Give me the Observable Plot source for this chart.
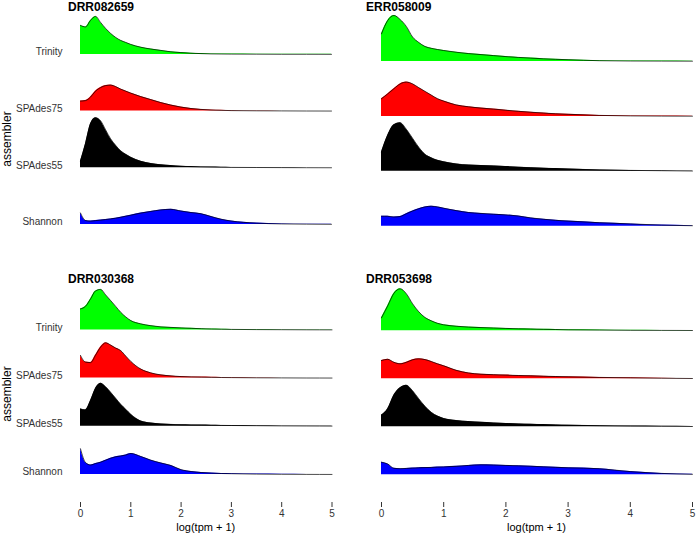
<!DOCTYPE html>
<html><head><meta charset="utf-8">
<script src="https://cdn.jsdelivr.net/npm/d3@7"></script>
<script src="https://cdn.jsdelivr.net/npm/@observablehq/plot@0.6"></script>
<style>
body{margin:0;background:#fff;font-family:"Liberation Sans",Arial,sans-serif;}
#root{position:relative;width:696px;height:535px;overflow:hidden;background:#fff;}
.panel{position:absolute;}
.title{position:absolute;font-weight:bold;font-size:12px;line-height:12px;color:#000;white-space:nowrap;}
.ylab{position:absolute;font-size:12px;line-height:12px;color:#000;transform:translate(-50%,-50%) rotate(-90deg);white-space:nowrap;}
.xlab{position:absolute;font-size:11px;line-height:11px;color:#000;transform:translate(-50%,-50%);white-space:nowrap;}
</style></head><body><div id="root"></div>
<script>
// ---------- data (relative density heights) ----------
const assemblers = ["Trinity", "SPAdes75", "SPAdes55", "Shannon"];
const colors = ["#00FF00", "#FF0000", "#000000", "#0000FF"];
const samples = ["DRR082659", "ERR058009", "DRR030368", "DRR053698"];
const xTicks = [0, 1, 2, 3, 4, 5];
const xTitle = "log(tpm + 1)";
const yTitle = "assembler";
const xGrid = [0,0.1,0.2,0.3,0.4,0.5,0.6,0.7,0.8,0.9,1.0,1.2,1.4,1.6,1.8,2.0,2.2,2.4,2.6,2.8,3.0,3.5,4.0,4.5,5.0];

const DRR082659_Trinity  = [29,27.5,34,38,32,26,21,17,14,12,10,7.2,5.4,4,2.6,1.8,1.2,0.8,0.5,0.4,0.3,0.2,0.1,0.1,0.05];
const DRR082659_SPAdes75 = [10,10.5,14,20,23.5,25.5,26,24.5,22,20,18,14.5,11.5,8.5,6,4,2.6,1.7,1.1,0.8,0.5,0.3,0.2,0.1,0.05];
const DRR082659_SPAdes55 = [6.7,24,44,50,47,38,29,22.5,17,13.5,10.6,6.5,4.3,3,2.2,1.5,1.2,0.9,0.7,0.5,0.4,0.3,0.2,0.1,0.05];
const DRR082659_Shannon  = [11.5,4,3.4,3.9,4.4,5,5.6,6.3,7.2,8.3,9.3,11.4,13.1,14.6,15.2,13.5,12,10.8,8,5.3,3.5,1.4,0.6,0.35,0.2];

const ERR058009_Trinity  = [27.7,41,46,42,35,24.5,19,15,13.2,12,11,9.3,7.9,6.9,5.9,4.9,4.1,3.4,2.7,2.2,1.8,0.8,0.5,0.4,0.3];
const ERR058009_SPAdes75 = [17.7,22.5,27.7,32.5,34.3,32.5,28.7,25,21.3,17.7,15.3,11.5,9.6,8.3,7.3,6.2,5.1,4.2,3.4,2.6,2.1,1.0,0.5,0.3,0.2];
const ERR058009_SPAdes55 = [19.3,36,46.5,48.5,42,33,24,17,13.5,11,9.5,7.4,6.2,5.8,5.4,4.7,4.1,3.6,3.1,2.7,2.3,1.4,0.9,0.6,0.3];
const ERR058009_Shannon  = [10,10,9.2,9.7,12.5,15.2,17.5,19.3,20,19.3,18,15.6,13.7,12.8,12,11.3,10.2,8.3,7,5.9,5.1,3.5,2.3,1.1,0.5];

const DRR030368_Trinity  = [21,23.6,31,39,40.5,35,29.3,23.5,17.6,13,9.3,6,4.2,3,2.5,2,1.6,1.2,0.9,0.7,0.5,0.3,0.2,0.1,0.05];
const DRR030368_SPAdes75 = [22.7,16,15.5,23,31,35.3,33,30,27.5,22,16.7,9,5.2,3.2,2.2,1.5,1.2,1,0.8,0.6,0.5,0.3,0.2,0.1,0.05];
const DRR030368_SPAdes55 = [17.4,16.4,25.7,38,43,39.5,34,28,22,17,12,5.2,3.2,2.3,1.9,1.5,1.3,1.2,1.0,0.9,0.8,0.6,0.4,0.3,0.2];
const DRR030368_Shannon  = [25.7,12,9.5,11,12.3,14.3,16.3,17.7,18.5,19.5,21,18,14.3,11.5,9,4.8,3,2,1.4,1,0.8,0.4,0.2,0.1,0.05];

const DRR053698_Trinity  = [13,25,37.5,42,37,27,19,13.3,10,7.5,6,4.6,3.7,3.2,2.8,2.4,2.0,1.8,1.5,1.3,1.0,0.8,0.5,0.4,0.3];
const DRR053698_SPAdes75 = [18.3,19.5,16.5,15,16.5,19,20,19.2,17.3,15,13,8.5,5.8,4.6,4.1,3.7,3.3,3,2.6,2.3,2.0,1.4,1.0,0.6,0.3];
const DRR053698_SPAdes55 = [11.7,18,31.7,39,41.5,36,28,20.5,14.5,10.7,8.3,6.3,5.2,4.5,3.8,3.3,2.9,2.5,2.2,1.9,1.6,1.1,0.7,0.5,0.3];
const DRR053698_Shannon  = [12.6,10.8,6.5,6.1,6.4,6.7,7,7.2,7.4,7.7,7.9,8.5,9.4,10,9.8,9.4,9,8.6,8,7.5,7,6.1,3.2,1.4,0.5];

const seriesBySample = [
  [DRR082659_Trinity, DRR082659_SPAdes75, DRR082659_SPAdes55, DRR082659_Shannon],
  [ERR058009_Trinity, ERR058009_SPAdes75, ERR058009_SPAdes55, ERR058009_Shannon],
  [DRR030368_Trinity, DRR030368_SPAdes75, DRR030368_SPAdes55, DRR030368_Shannon],
  [DRR053698_Trinity, DRR053698_SPAdes75, DRR053698_SPAdes55, DRR053698_Shannon]
];

// ---------- layout ----------
const layout = [
  {left:0,   top:0,   width:348, height:232, x0:80, x5:331, base:224,   frameBottom:224,   spacing:56.7, axis:false, labels:true,  titleX:68,  titleY:0.5, ylabY:139},
  {left:348, top:0,   width:348, height:232, x0:33, x5:344, base:225.7, frameBottom:225.7, spacing:54.9, axis:false, labels:false, titleX:366, titleY:0.5},
  {left:0,   top:250, width:348, height:285, x0:80, x5:331.5, base:224, frameBottom:252,   spacing:48.2, axis:true,  labels:true,  titleX:68,  titleY:272.5, ylabY:394},
  {left:348, top:250, width:348, height:285, x0:33, x5:344, base:224.3, frameBottom:252,   spacing:48,   axis:true,  labels:false, titleX:366, titleY:272.5}
];

const root = document.getElementById("root");
const curve = "monotone-x";

layout.forEach((p, si) => {
  const marks = [];
  seriesBySample[si].forEach((vals, k) => {
    const off = (3 - k) * p.spacing;
    const rows = xGrid.map((x, j) => ({x, lo: off, hi: off + vals[j]}));
    marks.push(Plot.areaY(rows, {x: "x", y1: "lo", y2: "hi", fill: colors[k], curve}));
    marks.push(Plot.lineY(rows, {x: "x", y: "hi", stroke: "#000", strokeWidth: 0.7, curve}));
  });
  if (p.labels) {
    marks.push(Plot.text(assemblers, {
      x: () => 0, y: (d, i) => (3 - i) * p.spacing, text: d => d,
      textAnchor: "end", dx: -18, dy: -2.5, fontSize: 10, fill: "#333"
    }));
  }
  if (p.axis) {
    marks.push(Plot.axisX({ticks: xTicks, tickSize: 5, tickPadding: 2, tickFormat: d => String(d),
      label: null, fontSize: 10, color: "#333"}));
  }
  const chart = Plot.plot({
    width: p.width, height: p.height,
    marginLeft: p.x0, marginRight: p.width - p.x5,
    marginTop: 0, marginBottom: p.height - p.frameBottom,
    x: {domain: [0, 5], axis: null},
    y: {domain: [p.base - p.frameBottom, p.base], axis: null},
    style: {fontFamily: '"Liberation Sans", Arial, sans-serif', fontSize: "10px", color: "#333", background: "transparent", overflow: "visible"},
    marks
  });
  const div = document.createElement("div");
  div.className = "panel";
  div.style.left = p.left + "px"; div.style.top = p.top + "px";
  div.appendChild(chart);
  root.appendChild(div);

  const t = document.createElement("div");
  t.className = "title"; t.textContent = samples[si];
  t.style.left = p.titleX + "px"; t.style.top = p.titleY + "px";
  root.appendChild(t);

  if (p.labels) {
    const yl = document.createElement("div");
    yl.className = "ylab"; yl.textContent = yTitle;
    yl.style.left = "7px"; yl.style.top = p.ylabY + "px";
    root.appendChild(yl);
  }
  if (p.axis) {
    const xl = document.createElement("div");
    xl.className = "xlab"; xl.textContent = xTitle;
    xl.style.left = (p.left + (p.x0 + p.x5) / 2) + "px";
    xl.style.top = "527px";
    root.appendChild(xl);
  }
});
</script></body></html>
